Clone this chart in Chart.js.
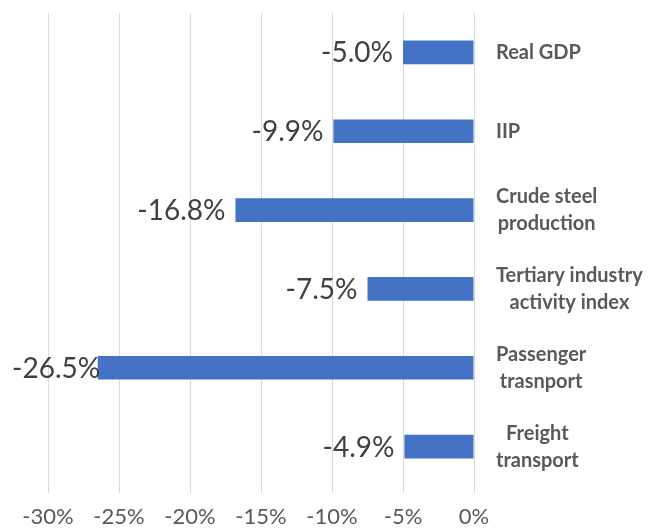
<!DOCTYPE html>
<html>
<head>
<meta charset="utf-8">
<script src="https://cdn.jsdelivr.net/npm/chart.js@4/dist/chart.umd.min.js"></script>
<style>
  html, body { margin: 0; padding: 0; background: #fff; }
  #wrap { width: 656px; height: 532px; }
</style>
</head>
<body>
<div id="wrap"><canvas id="myBarChart"></canvas></div>
<script>
// indicators, top to bottom
const categories = [
  ["Real GDP"],
  ["IIP"],
  ["Crude steel", "production"],
  ["Tertiary industry", "activity index"],
  ["Passenger", "trasnport"],
  ["Freight", "transport"],
];
// year-on-year change, %
const changes = [-5.0, -9.9, -16.8, -7.5, -26.5, -4.9];
const axisMin = -30;
const axisMax = 0;
const axisStep = 5;

const FONT = "Lato, Carlito, Calibri, sans-serif";

// value labels placed left of each bar
const valueLabels = {
  id: "valueLabels",
  afterDatasetsDraw(chart) {
    const { ctx } = chart;
    const xScale = chart.scales.x;
    const meta = chart.getDatasetMeta(0);
    ctx.save();
    ctx.font = "28px " + FONT;
    ctx.fillStyle = "#404040";
    ctx.textAlign = "right";
    ctx.textBaseline = "middle";
    meta.data.forEach((bar, i) => {
      const text = changes[i].toFixed(1) + "%";
      const w = ctx.measureText(text).width;
      let x = xScale.getPixelForValue(changes[i]) - 10;
      if (x - w < 12) x = 12 + w;
      ctx.fillText(text, x, bar.y + 1);
    });
    ctx.restore();
  },
};

// category names on the right, each block left aligned, lines centred
const categoryLabels = {
  id: "categoryLabels",
  afterDraw(chart) {
    const { ctx } = chart;
    const yScale = chart.scales.y;
    const left = 496;
    const lineH = 27;
    ctx.save();
    ctx.font = "bold 20px " + FONT;
    ctx.fillStyle = "#595959";
    ctx.textAlign = "center";
    ctx.textBaseline = "middle";
    categories.forEach((lines, i) => {
      const widest = Math.max(...lines.map((l) => ctx.measureText(l).width));
      const cx = left + widest / 2;
      const cy = yScale.getPixelForValue(i);
      const top = cy - ((lines.length - 1) * lineH) / 2;
      lines.forEach((l, j) => ctx.fillText(l, cx, top + j * lineH));
    });
    ctx.restore();
  },
};

const ctx = document.getElementById("myBarChart").getContext("2d");
new Chart(ctx, {
  type: "bar",
  data: {
    labels: categories,
    datasets: [
      {
        data: changes,
        backgroundColor: "#4472C4",
        barPercentage: 0.3,
        categoryPercentage: 1,
      },
    ],
  },
  options: {
    indexAxis: "y",
    responsive: true,
    maintainAspectRatio: false,
    animation: false,
    layout: { padding: { left: 48, right: 182, top: 13, bottom: 0 } },
    plugins: {
      legend: { display: false },
      tooltip: { enabled: false },
    },
    scales: {
      x: {
        min: axisMin,
        max: axisMax,
        afterFit: (scale) => { scale.height = 46; },
        grid: { color: "#d9d9d9", tickLength: 7, tickColor: "#d9d9d9" },
        border: { display: false },
        ticks: {
          stepSize: axisStep,
          padding: 11,
          color: "#595959",
          font: { family: FONT, size: 22 },
          callback: (v) => v + "%",
        },
      },
      y: {
        display: false,
      },
    },
  },
  plugins: [valueLabels, categoryLabels],
});
</script>
</body>
</html>
